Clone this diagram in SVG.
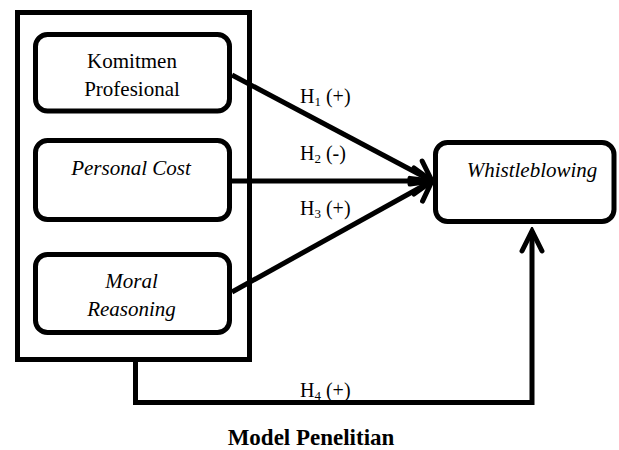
<svg xmlns="http://www.w3.org/2000/svg" width="619" height="450" viewBox="0 0 619 450">
<style>
.box{fill:#fff;stroke:#000;stroke-width:5}
.c{fill:none;stroke:#000;stroke-width:5}
</style>
<defs>
<marker id="arr" markerUnits="userSpaceOnUse" viewBox="-24 -16 28 32" refX="0" refY="0" markerWidth="28" markerHeight="32" orient="auto">
<path d="M-18,-13 L0,0 L-18,13" fill="none" stroke="#000" stroke-width="5" stroke-linecap="round" stroke-linejoin="miter"/>
</marker>
<marker id="arrUp" markerUnits="userSpaceOnUse" viewBox="-26 -14 30 28" refX="0" refY="0" markerWidth="30" markerHeight="28" orient="auto">
<path d="M-20,-10 L0,0 L-20,10" fill="none" stroke="#000" stroke-width="5" stroke-linecap="round" stroke-linejoin="miter"/>
</marker>
</defs>
<g id="outer">
<rect class="box" x="17.5" y="12.5" width="232" height="347"/>
</g>
<g id="komitmen" font-family="Liberation Serif" font-size="21" text-anchor="middle">
<rect class="box" x="35.5" y="34.5" width="194" height="76.5" rx="12"/>
<text x="132" y="68">Komitmen</text>
<text x="132" y="96">Profesional</text>
</g>
<g id="personal-cost" font-family="Liberation Serif" font-size="21" font-style="italic" text-anchor="middle">
<rect class="box" x="35.5" y="140.5" width="194" height="79" rx="12"/>
<text x="131" y="175">Personal Cost</text>
</g>
<g id="moral-reasoning" font-family="Liberation Serif" font-size="21" font-style="italic" text-anchor="middle">
<rect class="box" x="35.5" y="254.5" width="194" height="78" rx="12"/>
<text x="131.5" y="288">Moral</text>
<text x="131.5" y="316">Reasoning</text>
</g>
<g id="whistleblowing" font-family="Liberation Serif" font-size="21" font-style="italic" text-anchor="middle">
<rect class="box" x="435.5" y="142.5" width="178.5" height="79" rx="12"/>
<text x="532" y="177">Whistleblowing</text>
</g>
<g id="connectors" font-family="Liberation Serif" font-size="20">
<path class="c" d="M232,75 L432,181" marker-end="url(#arr)"/>
<path class="c" d="M232,181 L432,181" marker-end="url(#arr)"/>
<path class="c" d="M232,292 L432,181" marker-end="url(#arr)"/>
<path class="c" d="M135.5,360 L135.5,402.5 L532,402.5 L532,231" marker-end="url(#arrUp)"/>
<text x="300" y="103">H<tspan font-size="13" dy="3">1</tspan><tspan dy="-3"> (+)</tspan></text>
<text x="300" y="160">H<tspan font-size="13" dy="3">2</tspan><tspan dy="-3"> (-)</tspan></text>
<text x="300" y="215">H<tspan font-size="13" dy="3">3</tspan><tspan dy="-3"> (+)</tspan></text>
<text x="300" y="397">H<tspan font-size="13" dy="3">4</tspan><tspan dy="-3"> (+)</tspan></text>
</g>
<text x="311" y="445" font-family="Liberation Serif" font-size="23" font-weight="bold" text-anchor="middle">Model Penelitian</text>
</svg>
